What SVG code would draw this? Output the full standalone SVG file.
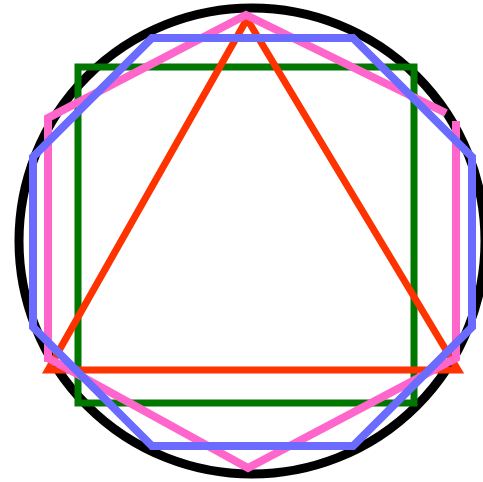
<svg xmlns="http://www.w3.org/2000/svg" width="483" height="482" viewBox="0 0 483 482">
<style>
.s{fill:none;stroke-linejoin:miter;stroke-miterlimit:10}
</style>
<rect width="483" height="482" fill="#fff"/>
<circle class="s" cx="252" cy="241" r="233" stroke="#000" stroke-width="9"/>
<rect class="s" x="78" y="67" width="336" height="336" stroke="#007800" stroke-width="7"/>
<polygon class="s" points="247,19 458,370 48,370" stroke="#ff3300" stroke-width="7"/>
<g class="s" stroke="#ff66cc" stroke-width="8">
<path d="M48,362 L48,118 L246,15 L446,113"/>
<path d="M456,121 L456,358 L248,468 L48,358"/>
</g>
<polygon class="s" points="152,38 353,38 472,157 472,327 353,446 152,446 33,327 33,157" stroke="#6b6bff" stroke-width="8"/>
</svg>
